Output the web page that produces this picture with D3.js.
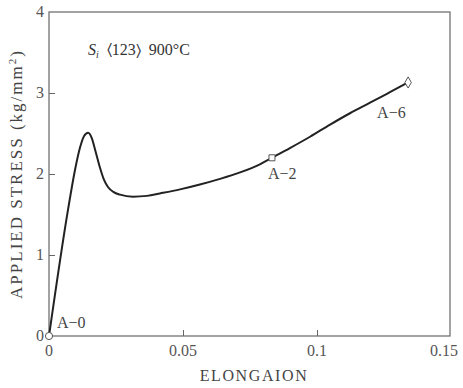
<!DOCTYPE html>
<html lang="en">
<head>
  <meta charset="UTF-8">
  <title>Applied stress vs elongation</title>
  <script src="https://d3js.org/d3.v7.min.js"></script>
  <style>
    body { margin: 0; background: #fff; }
  </style>
</head>
<body>
  <svg id="chart"></svg>

  <script>
    // curve: elongation vs applied stress (kg/mm2)
    const strain = [0, 0.0071, 0.0097, 0.0116, 0.0131, 0.0146, 0.0160, 0.0172, 0.0190, 0.0205,
      0.0220, 0.0240, 0.0265, 0.0313, 0.0366, 0.0414, 0.0489, 0.0563, 0.0638, 0.0713,
      0.0787, 0.0832, 0.0899, 0.0974, 0.1049, 0.1123, 0.1198, 0.1272, 0.1340];
    const stress = [0, 1.56, 2.05, 2.33, 2.47, 2.51, 2.44, 2.30, 2.08, 1.93,
      1.84, 1.78, 1.745, 1.72, 1.73, 1.76, 1.81, 1.87, 1.94, 2.02,
      2.12, 2.20, 2.32, 2.46, 2.61, 2.75, 2.88, 3.01, 3.13];

    // labelled points on the curve
    const markNames = ["A\u22120", "A\u22122", "A\u22126"];
    const markX = [0, 0.0832, 0.1340];
    const markY = [0, 2.20, 3.13];
    const markShape = ["circle", "square", "diamond"];

    const xTicks = [0, 0.05, 0.1, 0.15];
    const xTickLabels = ["0", "0.05", "0.1", "0.15"];
    const yTicks = [0, 1, 2, 3, 4];

    const width = 463, height = 388;
    const m = { left: 49, right: 451, top: 12, bottom: 336 };
    const serif = "Liberation Serif, Tinos, Times New Roman, DejaVu Serif, Noto Serif, serif";

    const svg = d3.select("#chart")
      .attr("width", width)
      .attr("height", height)
      .attr("font-family", serif);

    const x = d3.scaleLinear().domain([0, 0.15]).range([m.left, m.right]);
    const y = d3.scaleLinear().domain([0, 4]).range([m.bottom, m.top]);

    const axisColor = "#666";

    // frame
    svg.append("rect")
      .attr("x", m.left).attr("y", m.top)
      .attr("width", m.right - 1 - m.left).attr("height", m.bottom - m.top)
      .attr("fill", "none")
      .attr("stroke", axisColor)
      .attr("stroke-width", 1.2);

    // ticks pointing inward
    svg.append("g")
      .attr("transform", `translate(0,${m.bottom})`)
      .call(d3.axisTop(x).tickValues(xTicks.slice(1, 3)).tickSize(6).tickFormat(""))
      .call(g => g.select(".domain").remove())
      .call(g => g.selectAll("line").attr("stroke", axisColor));

    svg.append("g")
      .attr("transform", `translate(${m.left},0)`)
      .call(d3.axisRight(y).tickValues(yTicks.slice(1, 4)).tickSize(6).tickFormat(""))
      .call(g => g.select(".domain").remove())
      .call(g => g.selectAll("line").attr("stroke", axisColor));

    // tick labels (last one pulled in so it stays on the page)
    svg.append("g").selectAll("text")
      .data(xTicks)
      .enter().append("text")
      .attr("x", d => Math.min(x(d), width - 19))
      .attr("y", m.bottom + 20)
      .attr("text-anchor", "middle")
      .attr("font-family", serif)
      .attr("fill", "#555")
      .style("font-size", "16px")
      .text((d, i) => xTickLabels[i]);

    svg.append("g").selectAll("text")
      .data(yTicks)
      .enter().append("text")
      .attr("x", m.left - 5)
      .attr("y", d => y(d) + 5)
      .attr("text-anchor", "end")
      .attr("font-family", serif)
      .attr("fill", "#555")
      .style("font-size", "16px")
      .text(d => d);

    // axis titles
    svg.append("text")
      .attr("transform", `translate(22,${(m.top + m.bottom) / 2}) rotate(-90)`)
      .attr("text-anchor", "middle")
      .attr("font-family", serif)
      .attr("fill", "#444")
      .style("font-size", "17px")
      .style("letter-spacing", "2px")
      .html("APPLIED STRESS (kg/mm<tspan dy='-6' font-size='11'>2</tspan><tspan dy='6'>)</tspan>");

    svg.append("text")
      .attr("x", 254)
      .attr("y", 381)
      .attr("text-anchor", "middle")
      .attr("font-family", serif)
      .attr("fill", "#444")
      .style("font-size", "16px")
      .style("letter-spacing", "1.6px")
      .text("ELONGAION");

    // annotation
    svg.append("text")
      .attr("x", 88)
      .attr("y", 55)
      .attr("font-family", serif)
      .attr("fill", "#333")
      .style("font-size", "16px")
      .html("<tspan font-style='italic'>S</tspan><tspan font-style='italic' font-size='10' dy='3'>i</tspan><tspan dy='-3'>&#8194;\u2329123\u232A&#8194;900\u00B0C</tspan>");

    // curve
    const line = d3.line()
      .x(d => x(d[0]))
      .y(d => y(d[1]))
      .curve(d3.curveMonotoneX);

    svg.append("path")
      .datum(strain.map((s, i) => [s, stress[i]]))
      .attr("d", line)
      .attr("fill", "none")
      .attr("stroke", "#222")
      .attr("stroke-width", 2);

    // markers
    const symbols = { circle: d3.symbolCircle, square: d3.symbolSquare, diamond: d3.symbolDiamond };
    svg.append("g").selectAll("path")
      .data(markX)
      .enter().append("path")
      .attr("transform", (d, i) => `translate(${x(d)},${y(markY[i])})`)
      .attr("d", (d, i) => d3.symbol(symbols[markShape[i]], markShape[i] === "circle" ? 40 : 36)())
      .attr("fill", "#fff")
      .attr("stroke", "#555")
      .attr("stroke-width", 1);

    const labelDx = [8, -4, -31];
    const labelDy = [-8, 21, 36];
    svg.append("g").selectAll("text")
      .data(markNames)
      .enter().append("text")
      .attr("x", (d, i) => x(markX[i]) + labelDx[i])
      .attr("y", (d, i) => y(markY[i]) + labelDy[i])
      .attr("font-family", serif)
      .attr("fill", "#444")
      .style("font-size", "16px")
      .text(d => d);
  </script>
</body>
</html>
